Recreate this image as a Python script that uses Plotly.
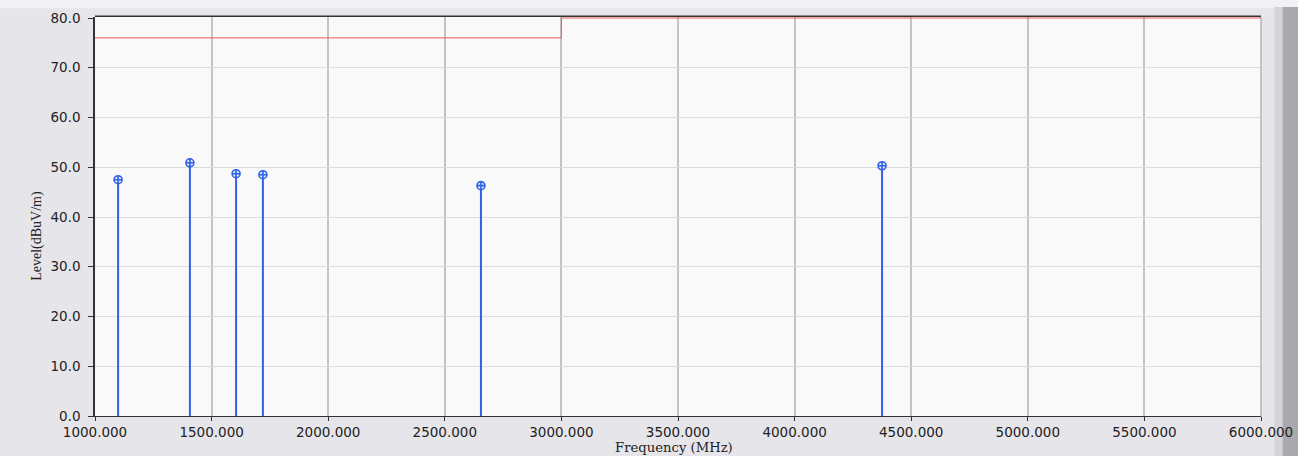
import plotly.graph_objects as go

# Measured emission peaks
freq_mhz = [1099, 1407, 1605, 1720, 2655, 4375]
level_dbuv = [47.5, 50.9, 48.7, 48.5, 46.3, 50.3]

# Limit line (step)
limit_freq = [1000, 3000, 6000]
limit_level = [76, 80, 80]

x_ticks = [1000, 1500, 2000, 2500, 3000, 3500, 4000, 4500, 5000, 5500, 6000]
x_tick_text = [f"{v:.3f}" for v in x_ticks]
y_ticks = [0, 10, 20, 30, 40, 50, 60, 70, 80]
y_tick_text = [f"{v:.1f}" for v in y_ticks]

stem_x, stem_y = [], []
for f, v in zip(freq_mhz, level_dbuv):
    stem_x += [f, f, None]
    stem_y += [0, v, None]

fig = go.Figure()
fig.add_trace(go.Scatter(x=limit_freq, y=limit_level, mode="lines",
                         line=dict(color="#e85a56", width=1, shape="hv"),
                         hoverinfo="skip", showlegend=False))
fig.add_trace(go.Scatter(x=stem_x, y=stem_y, mode="lines",
                         line=dict(color="#2f62e6", width=2),
                         hoverinfo="skip", showlegend=False))
fig.add_trace(go.Scatter(x=freq_mhz, y=level_dbuv, mode="markers",
                         marker=dict(symbol="circle-cross", size=8, color="#dfe6fb",
                                     line=dict(color="#2f62e6", width=1.6)),
                         showlegend=False))

fig.update_layout(
    width=1298, height=456,
    margin=dict(l=95, r=37, t=17, b=40, autoexpand=False),
    paper_bgcolor="#e6e5ea",
    plot_bgcolor="#f9f9f9",
    font=dict(family="DejaVu Sans", size=13, color="#222222"),
    xaxis=dict(range=[1000, 6000], tickvals=x_ticks, ticktext=x_tick_text,
               showgrid=True, gridcolor="#c4c4c4", gridwidth=1.5,
               ticks="outside", ticklen=4, tickcolor="#333333",
               showline=True, linecolor="#333333", linewidth=1, mirror=False,
               zeroline=False, tickfont=dict(size=13.5), automargin=False),
    yaxis=dict(range=[0, 80.2], tickvals=y_ticks, ticktext=y_tick_text,
               showgrid=True, gridcolor="#dcdcdc", gridwidth=1,
               ticks="outside", ticklen=5, tickcolor="#333333",
               ticklabelstandoff=5,
               showline=True, linecolor="#333333", linewidth=1.5,
               zeroline=False, tickfont=dict(size=13.5), automargin=False),
    annotations=[
        dict(text="Frequency (MHz)", xref="paper", yref="paper", x=0.4966, y=-0.08,
             xanchor="center", yanchor="middle", showarrow=False,
             font=dict(family="DejaVu Serif", size=13.2, color="#222222")),
        dict(text="Level(dBuV/m)", xref="paper", yref="paper", x=-0.05, y=0.451,
             xanchor="center", yanchor="middle", showarrow=False, textangle=-90,
             font=dict(family="Liberation Serif", size=14, color="#222222")),
    ],
    shapes=[
        dict(type="line", xref="paper", yref="paper", x0=0, x1=1, y0=1.002, y1=1.002,
             line=dict(color="#333333", width=1.5), layer="below"),
        dict(type="line", xref="paper", yref="paper", x0=1, x1=1, y0=0, y1=1,
             line=dict(color="#999999", width=1)),
        dict(type="rect", xref="paper", yref="paper", x0=-0.1, x1=1.05, y0=1.022, y1=1.05,
             fillcolor="#f2f2f5", line=dict(width=0), layer="below"),
        dict(type="rect", xref="paper", yref="paper", x0=1.0115, x1=1.0185, y0=-0.11, y1=1.025,
             fillcolor="#d4d4d8", line=dict(width=0), layer="below"),
        dict(type="rect", xref="paper", yref="paper", x0=1.0185, x1=1.032, y0=-0.11, y1=1.025,
             fillcolor="#a9a9ad", line=dict(width=0), layer="below"),
    ],
)

fig.write_html("out.html", config={"displayModeBar": False},
               post_script="document.body.style.margin='0px';")
